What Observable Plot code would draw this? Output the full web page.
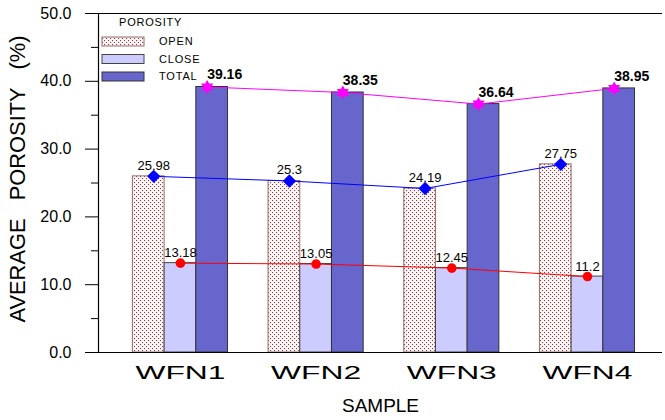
<!DOCTYPE html>
<html>
<head>
<meta charset="utf-8">
<script src="https://cdn.jsdelivr.net/npm/d3@7"></script>
<script src="https://cdn.jsdelivr.net/npm/@observablehq/plot@0.6"></script>
<style>
  body { margin: 0; background: #fff; }
  #chart { position: relative; width: 665px; height: 420px; font-family: "Liberation Sans", Arial, sans-serif; }
</style>
</head>
<body>
<svg width="0" height="0" style="position:absolute">
  <defs>
    <pattern id="dots" width="4" height="4" patternUnits="userSpaceOnUse">
      <rect width="4" height="4" fill="#fdf8f8"></rect>
      <rect x="0" y="0" width="1.1" height="1.1" fill="#8a4040"></rect>
      <rect x="2" y="2" width="1.1" height="1.1" fill="#8a4040"></rect>
    </pattern>
  </defs>
</svg>
<div id="chart"></div>
<script>
const samples = ["WFN1", "WFN2", "WFN3", "WFN4"];
const seriesNames = ["OPEN", "CLOSE", "TOTAL"];
const openVals = [25.98, 25.3, 24.19, 27.75];
const closeVals = [13.18, 13.05, 12.45, 11.2];
const totalVals = [39.16, 38.35, 36.64, 38.95];
const yTicks = [0, 10, 20, 30, 40, 50];
const yMinorTicks = [5, 15, 25, 35, 45];
const legendTitle = "POROSITY";
const xLabel = "SAMPLE";
const yLabel = "AVERAGE   POROSITY   (%)";

const barW = 0.2337; // bar width in group units
const seriesVals = [openVals, closeVals, totalVals];
const fills = ["url(#dots)", "#ccccff", "#6666cc"];
const strokes = ["#9a6a6a", "#444", "#333"];

const bars = [];
samples.forEach((s, i) => {
  seriesNames.forEach((n, k) => {
    bars.push({sample: s, series: n, value: seriesVals[k][i],
      x1: i + (k - 1.5) * barW, x2: i + (k - 0.5) * barW});
  });
});
const openPts = samples.map((s, i) => ({x: i - barW, y: openVals[i], label: String(openVals[i])}));
const closePts = samples.map((s, i) => ({x: i, y: closeVals[i], label: String(closeVals[i])}));
const totalPts = samples.map((s, i) => ({x: i + barW, y: totalVals[i], label: totalVals[i].toFixed(2)}));

const hexagram = {
  draw(ctx, size) {
    const R = Math.sqrt(size / Math.PI);
    for (const start of [-90, 90]) {
      for (let j = 0; j < 3; j++) {
        const a = (start + j * 120) * Math.PI / 180;
        const px = R * Math.cos(a), py = R * Math.sin(a);
        if (j === 0) ctx.moveTo(px, py); else ctx.lineTo(px, py);
      }
      ctx.closePath();
    }
  }
};

const chart = Plot.plot({
  width: 665,
  height: 420,
  marginLeft: 98,
  marginRight: 3,
  marginTop: 13,
  marginBottom: 68,
  style: {fontFamily: '"Liberation Sans", Arial, sans-serif', background: "white", color: "#000"},
  x: {domain: [-0.604, 3.553], axis: null},
  y: {domain: [0, 50], axis: null},
  marks: [
    Plot.rectY(bars, {x1: "x1", x2: "x2", y: "value",
      fill: d => fills[seriesNames.indexOf(d.series)],
      stroke: d => strokes[seriesNames.indexOf(d.series)], strokeWidth: 1}),
    Plot.ruleY([0], {stroke: "#000", strokeWidth: 1.2}),
    Plot.ruleY([50], {stroke: "#000", strokeWidth: 1.2}),
    Plot.frame({anchor: "left", stroke: "#000", strokeWidth: 1.2}),
    Plot.axisY({ticks: yTicks, tickSize: 13, tickPadding: 14, tickFormat: d => d.toFixed(1), fontSize: 16, stroke: "#000", label: null}),
    Plot.axisY({ticks: yMinorTicks, tickSize: 7, text: null, label: null, stroke: "#000"}),
    Plot.axisX({ticks: [0, 1, 2, 3], tickSize: 0, tickPadding: 14, tickFormat: i => samples[i], fontSize: 18, label: null}),
    Plot.line(openPts, {x: "x", y: "y", stroke: "#0000ff", strokeWidth: 1, dx: 5}),
    Plot.line(closePts, {x: "x", y: "y", stroke: "#ff0000", strokeWidth: 1}),
    Plot.line(totalPts, {x: "x", y: "y", stroke: "#ff00ff", strokeWidth: 1, dx: -5}),
    Plot.dot(openPts, {x: "x", y: "y", symbol: "diamond2", r: 6, fill: "#0000ff", dx: 5}),
    Plot.dot(closePts, {x: "x", y: "y", symbol: "circle", r: 4.8, fill: "#ff0000"}),
    Plot.dot(totalPts, {x: "x", y: "y", symbol: hexagram, r: 7, fill: "#ff00ff", dx: -5}),
    Plot.text(openPts, {x: "x", y: "y", text: "label", dx: 5, dy: -11, fontSize: 13, fill: "#000"}),
    Plot.text(closePts, {x: "x", y: "y", text: "label", dy: -10, fontSize: 13, fill: "#000"}),
    Plot.text(totalPts, {x: "x", y: "y", text: "label", dx: -5, dy: -12, fontSize: 14, fontWeight: "bold", textAnchor: "start", fill: "#000"}),
    Plot.text([xLabel], {frameAnchor: "bottom", dy: 59, fontSize: 19, fill: "#000"}),
    Plot.text([yLabel], {frameAnchor: "left", textAnchor: "middle", lineAnchor: "middle", dx: -81, dy: -4, rotate: -90, fontSize: 22, fill: "#000"})
  ]
});

document.getElementById("chart").appendChild(chart);
const svg = d3.select(chart);
svg.selectAll('g[aria-label="x-axis tick label"] text')
  .attr("textLength", 90).attr("lengthAdjust", "spacingAndGlyphs");
svg.selectAll('g[aria-label="text"] text').filter(function() { return this.textContent === yLabel; })
  .attr("xml:space", "preserve").style("white-space", "pre")
  .attr("textLength", 287).attr("lengthAdjust", "spacingAndGlyphs");

// legend
const lg = svg.append("g").attr("font-family", '"Liberation Sans", Arial, sans-serif')
  .attr("text-anchor", "start").attr("font-size", 11).attr("letter-spacing", "0.8px");
lg.append("text").attr("x", 119).attr("y", 22).attr("dy", "0.35em").text(legendTitle);
seriesNames.forEach((n, k) => {
  const yy = 37 + k * 17.5;
  lg.append("rect").attr("x", 102).attr("y", yy).attr("width", 42).attr("height", 9)
    .attr("fill", fills[k]).attr("stroke", strokes[k]).attr("stroke-width", 1);
  lg.append("text").attr("x", 159).attr("y", yy + 4.5).attr("dy", "0.35em").text(n);
});
</script>
</body>
</html>
